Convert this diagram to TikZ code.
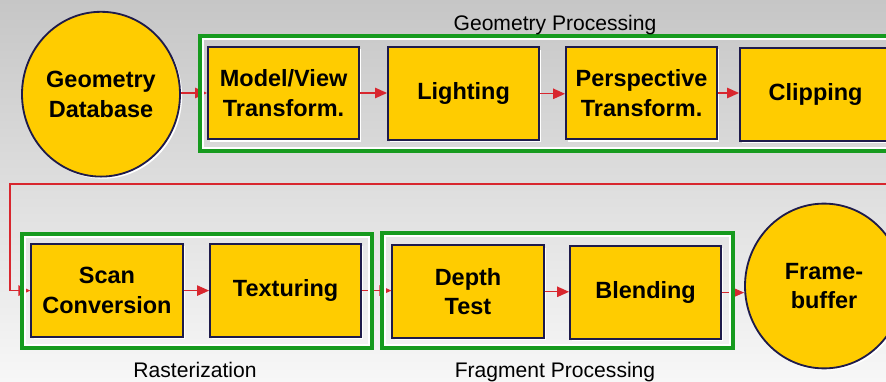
\documentclass[tikz,border=0pt]{standalone}
\usepackage{fontspec}
\setmainfont{Liberation Sans}
\usepackage{tikz}
\usetikzlibrary{arrows.meta,shapes.geometric,shadows}

\definecolor{stagegold}{HTML}{FFCC00}
\definecolor{stageedge}{HTML}{1E1B4B}
\definecolor{framegreen}{HTML}{169A1E}
\definecolor{flowred}{HTML}{D8262E}
\definecolor{bgtop}{HTML}{C6C6C6}
\definecolor{bgbottom}{HTML}{F7F7F7}

\tikzset{
	stage/.style={rectangle, draw=stageedge, line width=1.3pt, fill=stagegold,
		minimum width=3.78cm, minimum height=2.32cm, align=center,
		font=\bfseries\fontsize{16.7}{21}\selectfont,
		drop shadow={fill=white, opacity=1, shadow xshift=1.5pt, shadow yshift=-1.5pt}},
	store/.style={ellipse, draw=stageedge, line width=1.3pt, fill=stagegold,
		minimum width=3.95cm, minimum height=4.12cm, align=center, inner sep=0pt,
		font=\bfseries\fontsize{16.7}{21}\selectfont,
		drop shadow={fill=white, opacity=1, shadow xshift=1.5pt, shadow yshift=-1.5pt}},
	flow/.style={draw=flowred, line width=0.9pt, -{Triangle[length=0.3cm, width=0.26cm]}},
	group/.style={draw=framegreen, line width=2.2pt},
	groupinner/.style={draw=white, line width=1.2pt},
	grouptitle/.style={anchor=base, font=\fontsize{15}{18}\selectfont}
}

\begin{document}
\begin{tikzpicture}
	% Background
	\shade[top color=bgtop, bottom color=bgbottom] (0,0) rectangle (22.15,9.525);
	\useasboundingbox (0,0) rectangle (22.15,9.525);
	\clip (0,0) rectangle (22.15,9.525);

	% Geometry stages
	\node[store] (geodb) at (2.525,7.17) {Geometry\\Database};
	\node[stage] (modelview) at (7.09,7.2) {Model/View\\Transform.};
	\node[stage] (lighting) at (11.59,7.18) {Lighting};
	\node[stage] (persp) at (16.04,7.2) {Perspective\\Transform.};
	\node[stage] (clipping) at (20.39,7.17) {Clipping};

	% Raster and fragment stages
	\node[stage] (scanconv) at (2.675,2.26) {Scan\\Conversion};
	\node[stage] (texturing) at (7.14,2.26) {Texturing};
	\node[stage] (depthtest) at (11.7,2.23) {Depth\\Test};
	\node[stage] (blending) at (16.14,2.21) {Blending};
	\node[store] (framebuf) at (20.6,2.375) {Frame-\\buffer};

	% Flow arrows
	\draw[flow] (geodb.east |- modelview.west) -- (modelview.west);
	\draw[flow] (modelview.east) -- (modelview.east -| lighting.west);
	\draw[flow] (lighting.east) -- (lighting.east -| persp.west);
	\draw[flow] (persp.east) -- (persp.east -| clipping.west);
	\coordinate (fbentry) at (22.4,4.925);
	\draw[flow] (fbentry) -- (0.25,4.925) |- (scanconv.west);
	\draw[flow] (scanconv.east) -- (scanconv.east -| texturing.west);
	\draw[flow] (texturing.east) -- (texturing.east -| depthtest.west);
	\draw[flow] (depthtest.east) -- (depthtest.east -| blending.west);
	\draw[flow] (blending.east) -- (blending.east -| framebuf.west);

	% Group frames
	\draw[groupinner] (5.07,5.82) rectangle (22.4,8.555);
	\draw[group] (5.0,5.75) rectangle (22.4,8.625);
	\draw[groupinner] (0.62,0.895) rectangle (9.23,3.605);
	\draw[group] (0.55,0.825) rectangle (9.3,3.675);
	\draw[groupinner] (9.62,0.895) rectangle (18.255,3.63);
	\draw[group] (9.55,0.825) rectangle (18.325,3.7);

	% Group titles
	\node[grouptitle] (geotitle) at (13.875,8.76) {Geometry Processing};
	\node[grouptitle] (rastitle) at (4.875,0.1) {Rasterization};
	\node[grouptitle] (fragtitle) at (13.875,0.1) {Fragment Processing};
\end{tikzpicture}
\end{document}
